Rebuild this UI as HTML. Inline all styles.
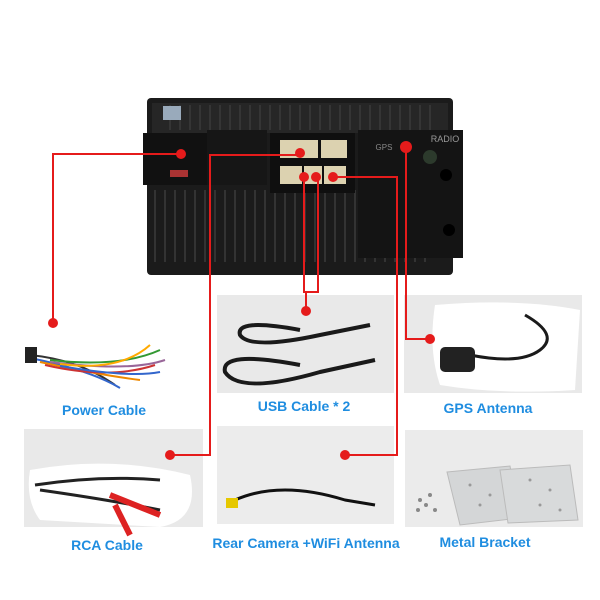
<!DOCTYPE html>
<html><head><meta charset="utf-8"><style>
html,body{margin:0;padding:0;background:#fff;}
svg{display:block}
text{font-family:"Liberation Sans",sans-serif;font-weight:bold;font-size:14px;fill:#1f8de0;text-anchor:middle}
</style></head><body>
<svg width="600" height="600" viewBox="0 0 600 600">
<rect width="600" height="600" fill="#fff"/>
<rect x="147" y="98" width="306" height="177" rx="4" fill="#1b1b1b"/>
<rect x="152" y="103" width="296" height="30" fill="#262626"/>
<g stroke="#3a3a3a" stroke-width="1.5">
<line x1="170" y1="105" x2="170" y2="130"/><line x1="180" y1="105" x2="180" y2="130"/><line x1="190" y1="105" x2="190" y2="130"/><line x1="200" y1="105" x2="200" y2="130"/><line x1="210" y1="105" x2="210" y2="130"/><line x1="220" y1="105" x2="220" y2="130"/><line x1="230" y1="105" x2="230" y2="130"/><line x1="240" y1="105" x2="240" y2="130"/><line x1="250" y1="105" x2="250" y2="130"/><line x1="260" y1="105" x2="260" y2="130"/><line x1="270" y1="105" x2="270" y2="130"/><line x1="280" y1="105" x2="280" y2="130"/><line x1="290" y1="105" x2="290" y2="130"/><line x1="300" y1="105" x2="300" y2="130"/><line x1="310" y1="105" x2="310" y2="130"/><line x1="320" y1="105" x2="320" y2="130"/><line x1="330" y1="105" x2="330" y2="130"/><line x1="340" y1="105" x2="340" y2="130"/><line x1="350" y1="105" x2="350" y2="130"/><line x1="360" y1="105" x2="360" y2="130"/><line x1="370" y1="105" x2="370" y2="130"/><line x1="380" y1="105" x2="380" y2="130"/><line x1="390" y1="105" x2="390" y2="130"/><line x1="400" y1="105" x2="400" y2="130"/><line x1="410" y1="105" x2="410" y2="130"/><line x1="420" y1="105" x2="420" y2="130"/><line x1="430" y1="105" x2="430" y2="130"/>
</g>
<g stroke="#333" stroke-width="2">
<line x1="155" y1="190" x2="155" y2="262"/><line x1="165" y1="190" x2="165" y2="262"/><line x1="175" y1="190" x2="175" y2="262"/><line x1="185" y1="190" x2="185" y2="262"/><line x1="195" y1="190" x2="195" y2="262"/><line x1="205" y1="190" x2="205" y2="262"/><line x1="215" y1="190" x2="215" y2="262"/><line x1="225" y1="190" x2="225" y2="262"/><line x1="235" y1="190" x2="235" y2="262"/><line x1="245" y1="190" x2="245" y2="262"/><line x1="255" y1="190" x2="255" y2="262"/><line x1="265" y1="190" x2="265" y2="262"/><line x1="275" y1="190" x2="275" y2="262"/><line x1="285" y1="190" x2="285" y2="262"/><line x1="295" y1="190" x2="295" y2="262"/><line x1="305" y1="190" x2="305" y2="262"/><line x1="315" y1="190" x2="315" y2="262"/><line x1="325" y1="190" x2="325" y2="262"/><line x1="335" y1="190" x2="335" y2="262"/><line x1="345" y1="190" x2="345" y2="262"/><line x1="355" y1="190" x2="355" y2="262"/><line x1="365" y1="190" x2="365" y2="262"/><line x1="375" y1="190" x2="375" y2="262"/><line x1="385" y1="190" x2="385" y2="262"/><line x1="395" y1="190" x2="395" y2="262"/><line x1="405" y1="190" x2="405" y2="262"/><line x1="415" y1="190" x2="415" y2="262"/><line x1="425" y1="190" x2="425" y2="262"/>
</g>
<rect x="143" y="133" width="64" height="52" fill="#111"/>
<rect x="207" y="130" width="60" height="55" fill="#161616"/>
<rect x="270" y="133" width="85" height="60" fill="#0f0f0f"/>
<rect x="358" y="130" width="105" height="128" fill="#141414"/>
<rect x="163" y="106" width="18" height="14" fill="#9ab"/>
<rect x="280" y="140" width="38" height="18" fill="#dcd2b0"/><rect x="321" y="140" width="26" height="18" fill="#dcd2b0"/>
<rect x="280" y="166" width="22" height="18" fill="#dcd2b0"/><rect x="304" y="166" width="18" height="18" fill="#dcd2b0"/><rect x="324" y="166" width="22" height="18" fill="#dcd2b0"/>
<rect x="170" y="170" width="18" height="7" fill="#a33"/>
<circle cx="430" cy="157" r="7" fill="#2c3a2c"/>
<circle cx="446" cy="175" r="6" fill="#000"/><circle cx="449" cy="230" r="6" fill="#000"/>
<text x="445" y="142" style="font-size:9px;fill:#999;font-weight:normal">RADIO</text>
<text x="384" y="150" style="font-size:8px;fill:#888;font-weight:normal">GPS</text>
<rect x="217" y="295" width="177" height="98" fill="#e9e9e9"/>
<rect x="404" y="295" width="178" height="98" fill="#e9e9e9"/>
<path d="M435 305 Q520 298 580 310 L575 390 Q500 395 440 385 Q428 350 435 305Z" fill="#fff"/>
<rect x="24" y="429" width="179" height="98" fill="#e9e9e9"/>
<path d="M30 470 Q110 455 190 475 Q200 520 160 527 L40 520 Q25 500 30 470Z" fill="#fff"/>
<rect x="217" y="426" width="177" height="98" fill="#ececec"/>
<rect x="405" y="430" width="178" height="97" fill="#ebebeb"/>
<g fill="none" stroke="#1a1a1a" stroke-width="4">
<path d="M300 330 Q235 318 240 335 Q250 350 320 335 L370 325"/>
<path d="M300 365 Q220 350 225 372 Q240 395 320 372 L375 360"/>
<path d="M525 315 Q560 335 540 350 Q520 365 470 355" stroke-width="3"/>
</g>
<rect x="440" y="347" width="35" height="25" rx="5" fill="#222"/>
<g stroke-width="2" fill="none">
<path d="M30 355 Q80 360 115 385" stroke="#333"/><path d="M30 358 Q90 370 120 388" stroke="#36c"/>
<path d="M40 362 Q100 375 140 380" stroke="#e80"/><path d="M45 365 Q110 380 155 365" stroke="#c33"/>
<path d="M50 360 Q120 368 160 350" stroke="#393"/><path d="M50 362 Q130 372 165 360" stroke="#969"/>
<path d="M60 364 Q120 372 150 345" stroke="#fa0"/><path d="M60 366 Q130 378 160 372" stroke="#36c"/>
</g>
<rect x="25" y="347" width="12" height="16" fill="#222"/>
<g stroke-width="3" fill="none">
<path d="M35 485 Q100 475 160 480" stroke="#222"/><path d="M40 490 Q110 500 160 510" stroke="#222"/>
<path d="M110 495 L160 515" stroke="#d22" stroke-width="6"/><path d="M115 505 L130 535" stroke="#d22" stroke-width="6"/>
<path d="M235 500 Q280 480 345 500 L375 505" stroke="#111"/>
</g>
<rect x="226" y="498" width="12" height="10" fill="#e6c800"/>
<polygon points="447,472 510,466 520,518 460,525" fill="#d4d6d7" stroke="#bbb"/>
<polygon points="500,470 570,465 578,520 508,523" fill="#d8dadb" stroke="#bbb"/>
<g fill="#999"><circle cx="470" cy="485" r="1.5"/><circle cx="490" cy="495" r="1.5"/><circle cx="480" cy="505" r="1.5"/><circle cx="530" cy="480" r="1.5"/><circle cx="550" cy="490" r="1.5"/><circle cx="540" cy="505" r="1.5"/><circle cx="560" cy="510" r="1.5"/></g>
<g fill="#888"><circle cx="420" cy="500" r="2"/><circle cx="426" cy="505" r="2"/><circle cx="430" cy="495" r="2"/><circle cx="418" cy="510" r="2"/><circle cx="435" cy="510" r="2"/></g>
<g stroke="#e51b1b" stroke-width="2" fill="none">
<polyline points="181,154 53,154 53,323"/>
<polyline points="300,155 210,155 210,455 170,455"/>
<polyline points="304,177 304,292 318,292 318,177"/>
<line x1="306" y1="292" x2="306" y2="311"/>
<polyline points="333,177 397,177 397,455 345,455"/>
<polyline points="406,147 406,339 430,339"/>
</g>
<g fill="#e51b1b">
<circle cx="181" cy="154" r="5"/><circle cx="53" cy="323" r="5"/><circle cx="300" cy="153" r="5"/>
<circle cx="170" cy="455" r="5"/><circle cx="304" cy="177" r="5"/><circle cx="316" cy="177" r="5"/>
<circle cx="333" cy="177" r="5"/><circle cx="306" cy="311" r="5"/><circle cx="345" cy="455" r="5"/>
<circle cx="406" cy="147" r="6"/><circle cx="430" cy="339" r="5"/>
</g>
<text x="104" y="415">Power Cable</text>
<text x="304" y="411">USB Cable * 2</text>
<text x="488" y="413">GPS Antenna</text>
<text x="107" y="550">RCA Cable</text>
<text x="306" y="548">Rear Camera +WiFi Antenna</text>
<text x="485" y="547">Metal Bracket</text>
</svg>
</body></html>
